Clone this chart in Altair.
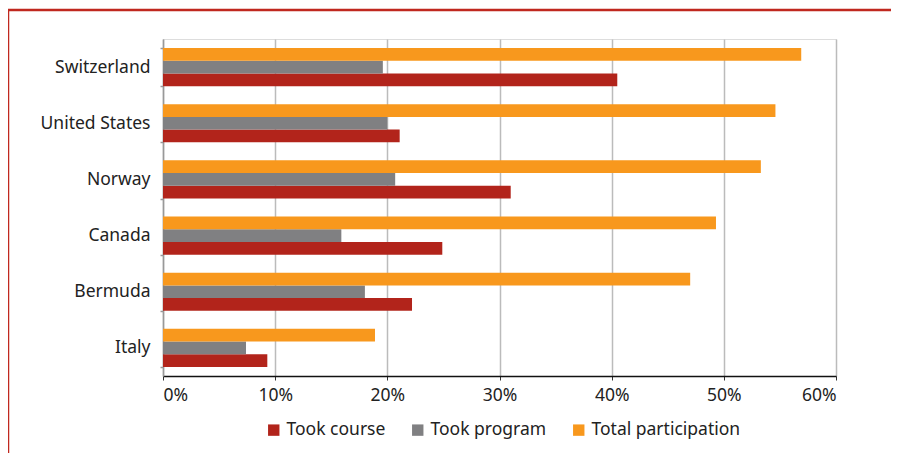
import altair as alt
import pandas as pd

countries = ["Switzerland", "United States", "Norway", "Canada", "Bermuda", "Italy"]
took_course = [40.5, 21.1, 31.0, 24.9, 22.2, 9.3]
took_program = [19.6, 20.0, 20.7, 15.9, 18.0, 7.4]
total_participation = [56.9, 54.6, 53.3, 49.3, 47.0, 18.9]

series_names = ["Took course", "Took program", "Total participation"]
series_colors = ["#b2241b", "#808082", "#f8981d"]

rows = []
for i, c in enumerate(countries):
    for name, vals in zip(series_names, [took_course, took_program, total_participation]):
        rows.append({"country": c, "series": name, "value": vals[i] / 100.0})
df = pd.DataFrame(rows)

FONT = "Noto Sans"
FS = 17.5

bars = alt.Chart(df).mark_bar().encode(
    y=alt.Y("country:N", sort=countries, title=None,
            scale=alt.Scale(paddingInner=0.32, paddingOuter=0.16),
            axis=alt.Axis(tickBand="extent", domainColor="#999999", domainWidth=1.5,
                          tickColor="#999999", tickSize=3, tickWidth=1.5,
                          labelFontSize=FS, labelColor="#222222", labelPadding=10,
                          labelFont=FONT, grid=False)),
    yOffset=alt.YOffset("series:N", sort=["Total participation", "Took program", "Took course"],
                        scale=alt.Scale(paddingInner=0, paddingOuter=0)),
    x=alt.X("value:Q", title=None,
            scale=alt.Scale(domain=[0, 0.6], nice=False),
            axis=alt.Axis(format=".0%", values=[0, 0.1, 0.2, 0.3, 0.4, 0.5, 0.6],
                          domainColor="#111111", domainWidth=1.5,
                          tickColor="#333333", tickSize=4, tickWidth=1,
                          labelFontSize=FS, labelColor="#222222", labelPadding=6,
                          labelFont=FONT,
                          grid=True, gridColor="#bbbbbb", gridWidth=1.5)),
    color=alt.Color("series:N",
                    scale=alt.Scale(domain=series_names, range=series_colors),
                    legend=alt.Legend(title=None, orient="none", direction="horizontal",
                                      legendX=102, legendY=382,
                                      symbolType="square", symbolSize=130,
                                      symbolStrokeWidth=0, symbolOpacity=1,
                                      labelFontSize=FS, labelFont=FONT,
                                      labelColor="#222222", labelOffset=4,
                                      columnPadding=23)),
)

frame_df = pd.DataFrame({"k": [0]})
frame_left = alt.Chart(frame_df).mark_rule(color="#c0281f", strokeWidth=2.5).encode(
    x=alt.value(-155), y=alt.value(-29), y2=alt.value(420))
frame_top = alt.Chart(frame_df).mark_rule(color="#c0281f", strokeWidth=2.5).encode(
    x=alt.value(-155), x2=alt.value(740), y=alt.value(-29))

chart = alt.layer(bars, frame_left, frame_top).properties(
    width=673, height=337,
    autosize=alt.AutoSizeParams(type="none"),
    padding={"left": 155, "top": 31, "right": 55, "bottom": 77},
).configure_view(stroke="#999999", strokeWidth=1.5).configure(background="white")

chart.save("out.html", embed_options={"renderer": "svg", "actions": False})
